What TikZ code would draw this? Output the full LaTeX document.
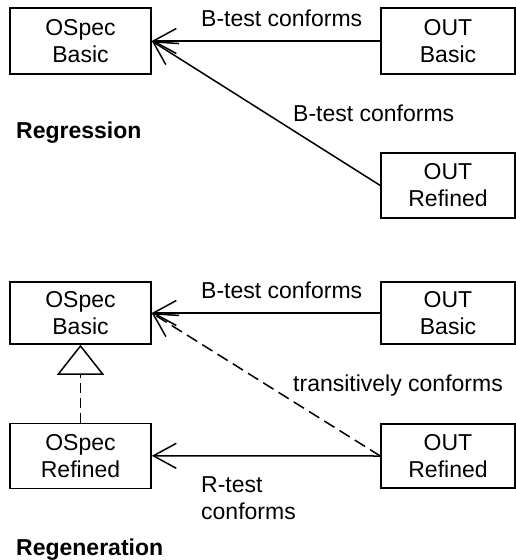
\documentclass[tikz,border=0pt]{standalone}
\usepackage{fontspec}
\setmainfont{Liberation Sans}
\usetikzlibrary{arrows.meta}
\begin{document}
\begin{tikzpicture}[x=1pt,y=-1pt,
  box/.style={draw,line width=1.5pt,rectangle,inner sep=0pt,align=center,
    font=\fontsize{23}{27}\selectfont},
  lbl/.style={anchor=base west,inner sep=0pt,font=\fontsize{23}{27}\selectfont},
  ttl/.style={anchor=base west,inner sep=0pt,font=\fontsize{23}{27}\selectfont\bfseries},
  conn/.style={line width=1.5pt,-{Straight Barb[length=23pt,width=25pt,line width=1.5pt]}},
  dashconn/.style={conn,dash pattern=on 12pt off 6pt},
  realize/.style={line width=1.5pt,dash pattern=on 10pt off 5pt,
    -{Triangle[open,length=30pt,width=47pt,line width=1.5pt]}}
]
\useasboundingbox (0,0) rectangle (516,560);
% Regression
\node[box,minimum width=141pt,minimum height=66pt] (ob1) at (80.5,41) {OSpec\\Basic};
\node[box,minimum width=134pt,minimum height=66pt] (ub1) at (448,41) {OUT\\Basic};
\node[box,minimum width=134pt,minimum height=65pt] (ur1) at (448,185.5) {OUT\\Refined};
\draw[conn] (ub1.west) -- (ob1.east);
\draw[conn] (ur1.west) -- (ob1.east);
\node[lbl] (l1) at (201,26.7) {B-test conforms};
\node[lbl] (l2) at (293,121.7) {B-test conforms};
\node[ttl] (t1) at (16,138) {Regression};
% Regeneration
\node[box,minimum width=141pt,minimum height=62pt] (ob2) at (80.5,313) {OSpec\\Basic};
\node[box,minimum width=141pt,minimum height=65pt] (or2) at (80.5,455.8) {OSpec\\Refined};
\node[box,minimum width=134pt,minimum height=62pt] (ub2) at (448,313) {OUT\\Basic};
\node[box,minimum width=134pt,minimum height=64pt] (ur2) at (448,456) {OUT\\Refined};
\draw[conn] (ub2.west) -- (ob2.east);
\draw[dashconn] (ur2.west) -- (ob2.east);
\draw[conn] (ur2.west) -- (or2.east);
\draw[realize] (or2.north) -- (ob2.south);
\node[lbl] (l3) at (201,298) {B-test conforms};
\node[lbl] (l4) at (293,391.7) {transitively conforms};
\node[lbl,align=left,anchor=north west] (l5) at (201,476) {R-test\\conforms};
\node[ttl] (t2) at (16,555) {Regeneration};
\end{tikzpicture}
\end{document}
